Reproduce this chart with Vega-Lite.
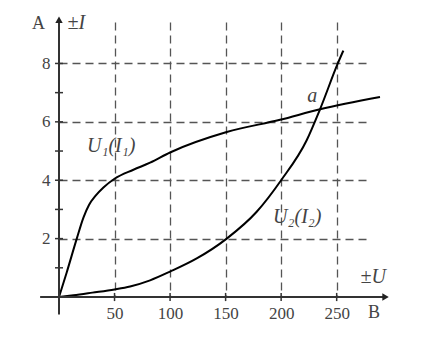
{
  "$schema": "https://vega.github.io/schema/vega-lite/v6.json",
  "width": 311,
  "height": 275,
  "autosize": {"type": "none"},
  "padding": {"left": 59, "top": 22, "right": 53, "bottom": 47},
  "background": "white",
  "config": {"view": {"stroke": null}, "font": "Liberation Serif", "axis": {"labelFont": "Liberation Serif"}},
  "datasets": {
    "curves": [
      {"curve": "U1", "u": 0, "i": 0},
      {"curve": "U1", "u": 7, "i": 0.85},
      {"curve": "U1", "u": 16, "i": 2.0},
      {"curve": "U1", "u": 22, "i": 2.72},
      {"curve": "U1", "u": 27, "i": 3.15},
      {"curve": "U1", "u": 33, "i": 3.47},
      {"curve": "U1", "u": 40, "i": 3.75},
      {"curve": "U1", "u": 50, "i": 4.05},
      {"curve": "U1", "u": 67, "i": 4.36},
      {"curve": "U1", "u": 82, "i": 4.6},
      {"curve": "U1", "u": 100, "i": 4.95},
      {"curve": "U1", "u": 151, "i": 5.65},
      {"curve": "U1", "u": 199, "i": 6.07},
      {"curve": "U1", "u": 235, "i": 6.43},
      {"curve": "U1", "u": 289, "i": 6.85},
      {"curve": "U2", "u": 0, "i": 0},
      {"curve": "U2", "u": 13, "i": 0.06},
      {"curve": "U2", "u": 30, "i": 0.15},
      {"curve": "U2", "u": 50, "i": 0.26},
      {"curve": "U2", "u": 64, "i": 0.36},
      {"curve": "U2", "u": 82, "i": 0.57},
      {"curve": "U2", "u": 100, "i": 0.87},
      {"curve": "U2", "u": 124, "i": 1.32},
      {"curve": "U2", "u": 151, "i": 2.0},
      {"curve": "U2", "u": 178, "i": 2.92},
      {"curve": "U2", "u": 200, "i": 4.0},
      {"curve": "U2", "u": 223, "i": 5.37},
      {"curve": "U2", "u": 235, "i": 6.43},
      {"curve": "U2", "u": 251, "i": 8.0},
      {"curve": "U2", "u": 256, "i": 8.44}
    ],
    "axislines": [
      {"name": "x", "u": -17, "u2": 292, "i": 0, "i2": 0},
      {"name": "y", "u": 0, "u2": 0, "i": -0.6, "i2": 9.4}
    ],
    "yticks": [{"v": 1}, {"v": 2}, {"v": 3}, {"v": 4}, {"v": 5}, {"v": 6}, {"v": 7}, {"v": 8}],
    "xticks": [{"v": 50}, {"v": 100}, {"v": 150}, {"v": 200}, {"v": 250}],
    "arrows": [
      {"u": 0, "i": 9.5, "shape": "triangle-up"},
      {"u": 294, "i": 0, "shape": "triangle-right"}
    ],
    "upright": [
      {"text": "A", "u": -18.5, "i": 9.35},
      {"text": "B", "u": 283.5, "i": -0.55}
    ],
    "italic": [
      {"text": "±I", "u": 15.5, "i": 9.38},
      {"text": "U₁(I₁)", "u": 47, "i": 5.17},
      {"text": "a", "u": 228, "i": 6.9},
      {"text": "U₂(I₂)", "u": 214.5, "i": 2.74},
      {"text": "±U", "u": 282.8, "i": 0.68}
    ]
  },
  "layer": [
    {
      "data": {"name": "curves"},
      "mark": {"type": "line", "interpolate": "monotone", "color": "black", "strokeWidth": 2},
      "encoding": {
        "x": {
          "field": "u", "type": "quantitative",
          "scale": {"domain": [0, 280], "nice": false, "zero": false},
          "axis": {
            "values": [50, 100, 150, 200, 250],
            "title": null,
            "domain": false,
            "ticks": false,
            "grid": true, "gridDash": [8, 5], "gridColor": "#555", "gridWidth": 1.3,
            "labelFont": "Liberation Serif", "labelFontSize": 17, "labelColor": "#444",
            "labelPadding": 8, "labelFlush": false, "labelOverlap": false
          }
        },
        "y": {
          "field": "i", "type": "quantitative",
          "scale": {"domain": [0, 9.42], "nice": false, "zero": false},
          "axis": {
            "values": [2, 4, 6, 8],
            "title": null,
            "domain": false,
            "ticks": false,
            "grid": true, "gridDash": [8, 5], "gridColor": "#555", "gridWidth": 1.3,
            "labelFont": "Liberation Serif", "labelFontSize": 17, "labelColor": "#444",
            "labelPadding": 9, "labelFlush": false, "labelOverlap": false
          }
        },
        "detail": {"field": "curve"}
      }
    },
    {
      "data": {"name": "axislines"},
      "mark": {"type": "rule", "color": "#333", "strokeWidth": 2},
      "encoding": {
        "x": {"field": "u", "type": "quantitative"},
        "x2": {"field": "u2"},
        "y": {"field": "i", "type": "quantitative"},
        "y2": {"field": "i2"}
      }
    },
    {
      "data": {"name": "yticks"},
      "mark": {"type": "rule", "color": "#333", "strokeWidth": 1.5},
      "encoding": {
        "y": {"field": "v", "type": "quantitative"},
        "x": {"datum": -3.6},
        "x2": {"datum": 3.6}
      }
    },
    {
      "data": {"name": "xticks"},
      "mark": {"type": "rule", "color": "#333", "strokeWidth": 1.5},
      "encoding": {
        "x": {"field": "v", "type": "quantitative"},
        "y": {"datum": -0.14},
        "y2": {"datum": 0.14}
      }
    },
    {
      "data": {"name": "arrows"},
      "mark": {"type": "point", "filled": true, "color": "#222", "opacity": 1, "size": 55},
      "encoding": {
        "x": {"field": "u", "type": "quantitative"},
        "y": {"field": "i", "type": "quantitative"},
        "shape": {"field": "shape", "type": "nominal", "scale": null, "legend": null}
      }
    },
    {
      "data": {"name": "upright"},
      "mark": {"type": "text", "font": "Liberation Serif", "fontSize": 18, "color": "#444", "align": "center", "baseline": "middle"},
      "encoding": {
        "x": {"field": "u", "type": "quantitative"},
        "y": {"field": "i", "type": "quantitative"},
        "text": {"field": "text"}
      }
    },
    {
      "data": {"name": "italic"},
      "mark": {"type": "text", "font": "Liberation Serif", "fontStyle": "italic", "fontSize": 20, "color": "#444", "align": "center", "baseline": "middle"},
      "encoding": {
        "x": {"field": "u", "type": "quantitative"},
        "y": {"field": "i", "type": "quantitative"},
        "text": {"field": "text"}
      }
    }
  ]
}
